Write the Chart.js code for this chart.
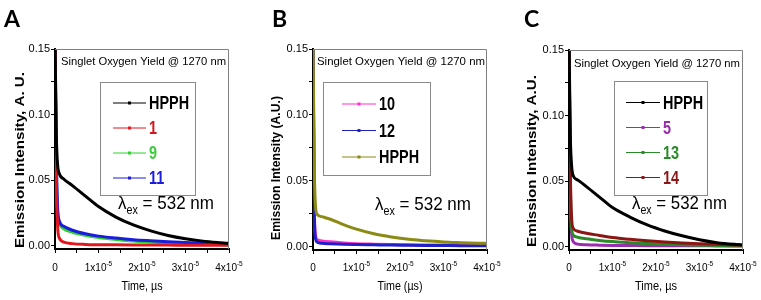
<!DOCTYPE html>
<html>
<head>
<meta charset="utf-8">
<script src="https://cdn.jsdelivr.net/npm/chart.js@4.4.1/dist/chart.umd.min.js"></script>
<style>
html, body { margin: 0; padding: 0; background: #fff; }
#wrap { position: relative; width: 761px; height: 300px; overflow: hidden; }
#wrap canvas { position: absolute; left: 0; top: 0; }
</style>
</head>
<body>
<div id="wrap">
  <canvas id="cA" width="761" height="300"></canvas>
  <canvas id="cB" width="761" height="300"></canvas>
  <canvas id="cC" width="761" height="300"></canvas>
</div>
<script>
// time axis (seconds), same sampling for every trace
const times = [0, 0.03e-5, 0.06e-5, 0.1e-5, 0.2e-5, 0.4e-5, 0.7e-5, 1.0e-5, 1.4e-5, 1.8e-5, 2.2e-5, 2.6e-5, 3.0e-5, 3.4e-5, 3.8e-5, 4.0e-5];

// tick values + labels
const xTicks = [0, 0.5e-5, 1e-5, 1.5e-5, 2e-5, 2.5e-5, 3e-5, 3.5e-5, 4e-5];
const xTickBase = ['0', '', '1x10', '', '2x10', '', '3x10', '', '4x10'];
const xTickExp = ['', '', '-5', '', '-5', '', '-5', '', '-5'];
const yTicks = [0, 0.025, 0.05, 0.075, 0.10, 0.125, 0.15];
const yTickLabels = ['0.00', '', '0.05', '', '0.10', '', '0.15'];

// panel A
const hpphA = [0.16, 0.085, 0.062, 0.055, 0.051, 0.046, 0.038, 0.030, 0.022, 0.016, 0.0115, 0.008, 0.0055, 0.0037, 0.0025, 0.002];
const cmp1  = [0.16, 0.05, 0.015, 0.006, 0.003, 0.0018, 0.0012, 0.001, 0.0009, 0.0008, 0.0007, 0.0007, 0.0006, 0.0006, 0.0005, 0.0005];
const cmp9  = [0.16, 0.06, 0.025, 0.017, 0.013, 0.0105, 0.0082, 0.0065, 0.005, 0.0038, 0.003, 0.0023, 0.0018, 0.0014, 0.0011, 0.001];
const cmp11 = [0.16, 0.07, 0.03, 0.019, 0.015, 0.012, 0.0093, 0.0075, 0.006, 0.0048, 0.004, 0.0033, 0.0027, 0.0022, 0.0017, 0.0015];

// panel B
const cmp10 = [0.16, 0.03, 0.009, 0.0055, 0.0046, 0.0039, 0.0031, 0.0025, 0.0021, 0.0018, 0.0016, 0.0015, 0.0014, 0.0013, 0.0012, 0.0011];
const cmp12 = [0.16, 0.025, 0.006, 0.0035, 0.0028, 0.0024, 0.002, 0.0018, 0.0016, 0.0014, 0.0013, 0.0012, 0.0011, 0.001, 0.001, 0.001];
const hpphB = [0.16, 0.06, 0.03, 0.0245, 0.023, 0.021, 0.017, 0.0135, 0.010, 0.0076, 0.0058, 0.0047, 0.0037, 0.0032, 0.0028, 0.0027];

// panel C
const hpphC = [0.16, 0.085, 0.062, 0.054, 0.051, 0.046, 0.038, 0.030, 0.0228, 0.0168, 0.0122, 0.0085, 0.0055, 0.0033, 0.002, 0.0016];
const cmp5  = [0.16, 0.04, 0.01, 0.004, 0.0022, 0.0017, 0.0014, 0.0012, 0.0011, 0.001, 0.001, 0.0009, 0.0009, 0.0008, 0.0008, 0.0008];
const cmp13 = [0.16, 0.05, 0.015, 0.009, 0.0074, 0.0062, 0.005, 0.0041, 0.0033, 0.0026, 0.0021, 0.0017, 0.0014, 0.0012, 0.001, 0.001];
const cmp14 = [0.16, 0.06, 0.022, 0.014, 0.012, 0.0105, 0.0088, 0.0072, 0.0058, 0.0047, 0.0038, 0.0031, 0.0025, 0.002, 0.0016, 0.0015];

// z: lower number is painted on top
const panels = [
  { canvas: 'cA', letter: 'A', letterX: 4, left: 55, right: 229, top: 49, bottom: 249,
    ytitle: 'Emission Intensity, A. U.', ytX: 24, ytY: 160, ytLen: 176,
    xtitle: 'Time, \u00b5s', xtW: 41,
    singletX: 61, singletW: 165, singletY: 65,
    lamX: 118, lamW: 96, lamY: 209,
    box: [100, 82, 95, 113], lineX: [113, 146], textX: 149,
    series: [
      { name: 'HPPH', data: hpphA, color: '#000000', text: '#000000', row: 102.5, z: 0 },
      { name: '1', data: cmp1, color: '#e0181e', text: '#d01820', row: 127.5, z: 1 },
      { name: '9', data: cmp9, color: '#2ed12e', text: '#3ccc3c', row: 152.5, z: 3 },
      { name: '11', data: cmp11, color: '#1c1cdc', text: '#1c1cdc', row: 177.5, z: 2 }
    ] },
  { canvas: 'cB', letter: 'B', letterX: 272, left: 313, right: 487, top: 49, bottom: 250,
    ytitle: 'Emission Intensity (A.U.)', ytX: 280, ytY: 168, ytLen: 144,
    xtitle: 'Time (\u00b5s)', xtW: 45,
    singletX: 317, singletW: 168, singletY: 65,
    lamX: 375, lamW: 96, lamY: 210,
    box: [323, 82, 107, 93], lineX: [342, 376], textX: 379,
    series: [
      { name: '10', data: cmp10, color: '#ff30c8', text: '#000000', row: 103.5, z: 2 },
      { name: '12', data: cmp12, color: '#2020c8', text: '#000000', row: 130, z: 1 },
      { name: 'HPPH', data: hpphB, color: '#8a8a14', text: '#000000', row: 156.5, z: 0 }
    ] },
  { canvas: 'cC', letter: 'C', letterX: 524, left: 569, right: 743, top: 50, bottom: 250,
    ytitle: 'Emission Intensity, A.U.', ytX: 536, ytY: 161, ytLen: 172,
    xtitle: 'Time, \u00b5s', xtW: 42,
    singletX: 574, singletW: 166, singletY: 67,
    lamX: 632, lamW: 95, lamY: 209,
    box: [614, 81, 93, 114], lineX: [626, 660], textX: 663,
    series: [
      { name: 'HPPH', data: hpphC, color: '#000000', text: '#000000', row: 102, z: 0 },
      { name: '5', data: cmp5, color: '#9a2cb0', text: '#9a2cb0', row: 127, z: 3 },
      { name: '13', data: cmp13, color: '#2a8a2a', text: '#2a8a2a', row: 152, z: 2 },
      { name: '14', data: cmp14, color: '#8c1616', text: '#8c1616', row: 177, z: 1 }
    ] }
];

const SANS = '"Liberation Sans", Arial, sans-serif';

function fitText(ctx, str, x, y, font, w) {
  ctx.font = font;
  const s = w / ctx.measureText(str).width;
  ctx.save();
  ctx.translate(x, y);
  ctx.scale(s, 1);
  ctx.textAlign = 'left';
  ctx.fillText(str, 0, 0);
  ctx.restore();
}

function makeDeco(p) {
  return {
    id: 'deco' + p.letter,
    afterDraw(chart) {
      const ctx = chart.ctx, a = chart.chartArea, xs = chart.scales.x;
      ctx.save();
      ctx.textBaseline = 'alphabetic';
      ctx.fillStyle = '#000';

      // thin frame top/right
      ctx.strokeStyle = '#808080';
      ctx.lineWidth = 1;
      ctx.beginPath();
      ctx.moveTo(a.left, a.top + 0.5);
      ctx.lineTo(a.right - 0.5, a.top + 0.5);
      ctx.lineTo(a.right - 0.5, a.bottom);
      ctx.stroke();

      // panel letter
      ctx.font = 'bold 23px Lato, ' + SANS;
      ctx.fillText(p.letter, p.letterX, 27);

      // header
      fitText(ctx, 'Singlet Oxygen Yield @ 1270 nm', p.singletX, p.singletY, '11.5px ' + SANS, p.singletW);

      // legend box
      const b = p.box;
      ctx.strokeStyle = '#8a8a8a';
      ctx.lineWidth = 1;
      ctx.strokeRect(b[0] + 0.5, b[1] + 0.5, b[2], b[3]);
      p.series.forEach(s => {
        ctx.strokeStyle = s.color;
        ctx.lineWidth = 1;
        ctx.beginPath();
        ctx.moveTo(p.lineX[0], s.row + 0.5);
        ctx.lineTo(p.lineX[1], s.row + 0.5);
        ctx.stroke();
        ctx.fillStyle = s.color;
        ctx.fillRect((p.lineX[0] + p.lineX[1]) / 2 - 1.5, s.row - 1, 3, 3);
        ctx.fillStyle = s.text;
        ctx.font = 'bold 18.5px ' + SANS;
        ctx.save();
        ctx.translate(p.textX, s.row + 6.8);
        ctx.scale(0.78, 1);
        ctx.fillText(s.name, 0, 0);
        ctx.restore();
      });

      // lambda_ex = 532 nm
      ctx.fillStyle = '#000';
      const parts = [['\u03bb', '19px ' + SANS, 0], ['ex', '12px ' + SANS, 5], [' = 532 nm', '19px ' + SANS, 0]];
      let tot = 0;
      parts.forEach(q => { ctx.font = q[1]; q.push(ctx.measureText(q[0]).width); tot += q[3]; });
      ctx.save();
      ctx.translate(p.lamX, p.lamY);
      ctx.scale(p.lamW / tot, 1);
      let cx = 0;
      parts.forEach(q => { ctx.font = q[1]; ctx.fillText(q[0], cx, q[2]); cx += q[3]; });
      ctx.restore();

      // y title (baseline at ytX, letters grow to the left)
      ctx.save();
      ctx.translate(p.ytX, p.ytY);
      ctx.rotate(-Math.PI / 2);
      ctx.font = 'bold 13.5px ' + SANS;
      const yw = ctx.measureText(p.ytitle).width;
      ctx.scale(p.ytLen / yw, 1);
      ctx.fillText(p.ytitle, -yw / 2, 0);
      ctx.restore();

      // x title
      fitText(ctx, p.xtitle, (a.left + a.right) / 2 - p.xtW / 2, 290, '13px ' + SANS, p.xtW);

      // x tick labels with exponent
      xTicks.forEach((v, i) => {
        const base = xTickBase[i];
        if (!base) return;
        const px = xs.getPixelForValue(v);
        const sx = 0.87;
        ctx.font = '11.5px ' + SANS;
        const w1 = ctx.measureText(base).width * sx;
        ctx.font = '7.5px ' + SANS;
        const w2 = xTickExp[i] ? ctx.measureText(xTickExp[i]).width * sx : 0;
        const x0 = px - (w1 + w2) / 2;
        ctx.save();
        ctx.translate(x0, 271);
        ctx.scale(sx, 1);
        ctx.font = '11.5px ' + SANS;
        ctx.fillText(base, 0, 0);
        if (xTickExp[i]) {
          ctx.font = '7.5px ' + SANS;
          ctx.fillText(xTickExp[i], w1 / sx, -5);
        }
        ctx.restore();
      });
      ctx.restore();
    }
  };
}

panels.forEach(p => {
  const datasets = p.series.map(s => ({
    label: s.name,
    data: times.map((t, i) => ({ x: t, y: s.data[i] })),
    borderColor: s.color,
    backgroundColor: s.color,
    borderWidth: 3,
    pointRadius: 0,
    order: s.z,
    cubicInterpolationMode: 'monotone'
  }));
  new Chart(document.getElementById(p.canvas), {
    type: 'line',
    data: { datasets },
    options: {
      responsive: false,
      animation: false,
      events: [],
      layout: { padding: { left: p.left - 45, top: p.top, right: 761 - p.right, bottom: 300 - p.bottom - 10 } },
      plugins: { legend: { display: false }, tooltip: { enabled: false } },
      scales: {
        x: {
          type: 'linear', min: 0, max: 4e-5,
          afterFit: s => { s.height = 10; },
          afterBuildTicks: s => { s.ticks = xTicks.map(v => ({ value: v })); },
          ticks: { display: false },
          grid: { drawOnChartArea: false, drawTicks: true, tickLength: 4, color: '#000', lineWidth: 1 },
          border: { display: true, color: '#000', width: 2 }
        },
        y: {
          type: 'linear', min: -0.0023, max: 0.15,
          afterFit: s => { s.width = 45; },
          afterBuildTicks: s => { s.ticks = yTicks.map(v => ({ value: v })); },
          ticks: { callback: (v, i) => yTickLabels[i], color: '#000', padding: 1, font: { size: 11, family: SANS } },
          grid: { drawOnChartArea: false, drawTicks: true, tickLength: 4, color: '#000', lineWidth: 1 },
          border: { display: true, color: '#000', width: 2 }
        }
      }
    },
    plugins: [makeDeco(p)]
  });
});
</script>
</body>
</html>
